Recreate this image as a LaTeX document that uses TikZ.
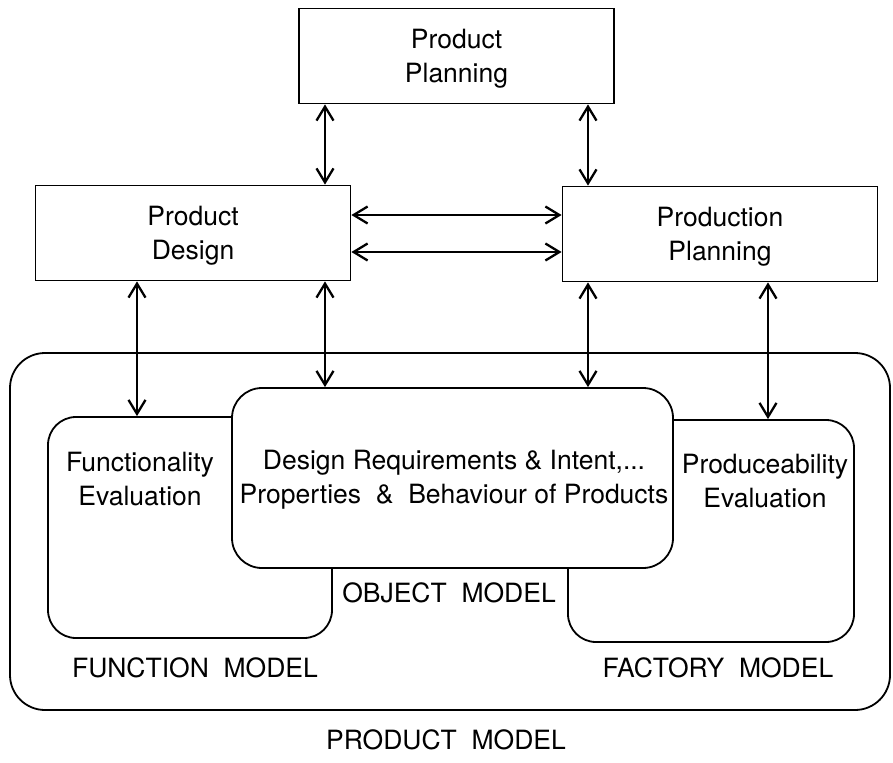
\documentclass[tikz,border=0pt]{standalone}
\usepackage{fontspec}
\setmainfont{TeX Gyre Heros}
\usetikzlibrary{arrows.meta}

\begin{document}
\begin{tikzpicture}[x=1pt,y=-1pt,
  txt/.style={font=\fontsize{26.5}{34}\selectfont,align=center,inner sep=0pt},
  flatbox/.style={draw,line width=1.8pt,minimum width=315pt,minimum height=95pt,inner sep=0pt,txt,text depth=-8pt},
  roundbox/.style={draw,line width=1.8pt,rounded corners=28pt,inner sep=0pt},
  link/.style={line width=1.7pt,{Straight Barb[length=14pt,width=17pt,line width=2.3pt]}-{Straight Barb[length=14pt,width=17pt,line width=2.3pt]}}]
 \useasboundingbox (0,0) rectangle (893,762);
 % upper level: planning and design boxes
 \node [flatbox] (plan) at (456.5,56) {Product\\Planning};
 \node [flatbox] (design) at (193,233) {Product\\Design};
 \node [flatbox] (prod) at (720,234) {Production\\Planning};
 % product model with the three part models
 \node [roundbox,rounded corners=35pt,minimum width=880pt,minimum height=357pt] (outer) at (450,531.5) {};
 \node [roundbox,minimum width=284pt,minimum height=221pt] (func) at (190,527.5) {};
 \node [roundbox,minimum width=286pt,minimum height=222pt] (fact) at (711,531) {};
 \node [roundbox,fill=white,rounded corners=30pt,minimum width=441pt,minimum height=180pt] (obj) at (452.5,478) {};
 \node [txt] (functxt) at (140,479) {Functionality\\Evaluation};
 \node [txt] (objtxt) at (454,480) {Design Requirements \& Intent,...\\Properties\ \ \&\ \ Behaviour of Products};
 \node [txt] (facttxt) at (765,481) {Produceability\\Evaluation};
 \node [txt] (objname) at (449,593) {OBJECT\ \ MODEL};
 \node [txt] (funcname) at (195,668) {FUNCTION\ \ MODEL};
 \node [txt] (factname) at (718,668) {FACTORY\ \ MODEL};
 \node [txt] (outername) at (446,740) {PRODUCT\ \ MODEL};
 % columns and rows of the links
 \coordinate (c1) at (137,0);
 \coordinate (c2) at (325,0);
 \coordinate (c3) at (588,0);
 \coordinate (c4) at (768,0);
 \coordinate (r1) at (0,215);
 \coordinate (r2) at (0,252);
 \draw [link] (plan.south -| c2) -- (design.north -| c2);
 \draw [link] (plan.south -| c3) -- (prod.north -| c3);
 \draw [link] (design.east |- r1) -- (prod.west |- r1);
 \draw [link] (design.east |- r2) -- (prod.west |- r2);
 \draw [link] (design.south -| c1) -- (func.north -| c1);
 \draw [link] (design.south -| c2) -- (obj.north -| c2);
 \draw [link] (prod.south -| c3) -- (obj.north -| c3);
 \draw [link] (prod.south -| c4) -- (fact.north -| c4);
\end{tikzpicture}
\end{document}
